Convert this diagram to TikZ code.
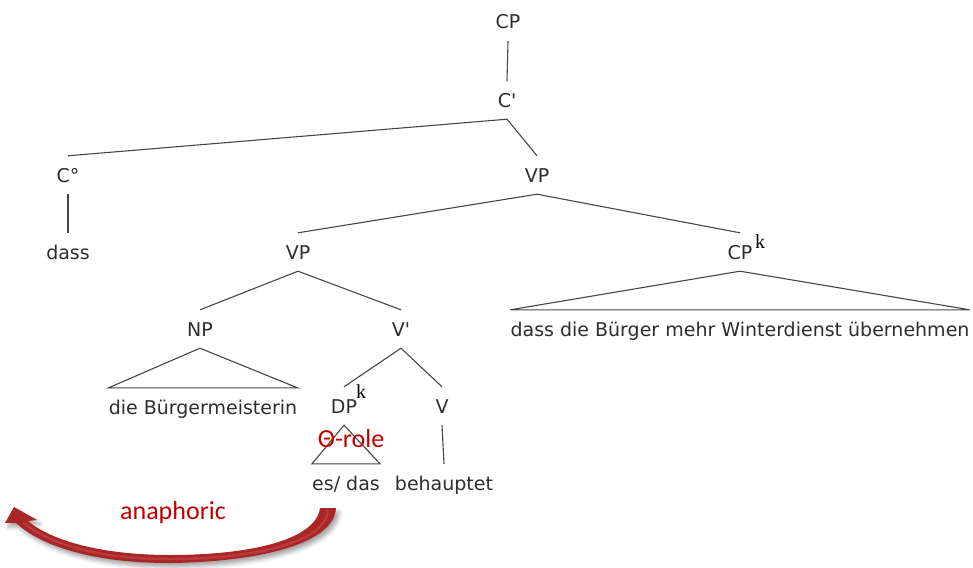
\documentclass[tikz,border=0pt]{standalone}
\usepackage{fontspec}
\setmainfont{DejaVu Sans}
\newfontfamily\notefont{Carlito}
\newfontfamily\indexfont{Liberation Serif}
\usetikzlibrary{shadows.blur}
\definecolor{ink}{RGB}{45,45,45}
\definecolor{branchgray}{RGB}{70,70,70}
\definecolor{notered}{RGB}{192,0,0}
\definecolor{arrowred}{RGB}{168,38,38}
\definecolor{arrowlight}{RGB}{200,70,70}

\begin{document}
\begin{tikzpicture}[x=1pt,y=-1pt,
  cat/.style={font=\fontsize{19}{22}\selectfont, text=ink, text height=14pt,
              text depth=0pt, inner xsep=0pt, inner ysep=12pt},
  branch/.style={draw=branchgray, line width=1.1pt},
  idx/.style={font=\indexfont\fontsize{20}{20}\selectfont, text=black, inner sep=0pt},
  note/.style={font=\notefont\fontsize{26}{26}\selectfont, text=notered, inner sep=0pt}]
\useasboundingbox (0,0) rectangle (973,567);

% category labels and leaves
\node[cat] (cp)     at (508,22)  {CP};
\node[cat] (cbar)   at (507,100) {C\textquotesingle};
\node[cat] (c0)     at (68,175)  {C°};
\node[cat] (vp1)    at (537,175) {VP};
\node[cat] (dass)   at (68,252)  {dass};
\node[cat] (vp2)    at (298,252) {VP};
\node[cat] (cpk)    at (740,252) {CP};
\node[idx] (cpkidx) at (760,242) {k};
\node[cat] (np)     at (200,329) {NP};
\node[cat] (vbar)   at (401,329) {V\textquotesingle};
\node[cat] (clause) at (740,329) {dass die Bürger mehr Winterdienst übernehmen};
\node[cat] (subj)   at (203,407) {die Bürgermeisterin};
\node[cat] (dp)     at (344,406) {DP};
\node[idx] (dpidx)  at (361,392) {k};
\node[cat] (v)      at (442,406) {V};
\node[cat] (pron)   at (346,483) {es/ das};
\node[cat] (verb)   at (444,483) {behauptet};

% branches
\draw[branch] (cp.south) -- (cbar.north);
\draw[branch] (c0.north) -- (cbar.south) -- (vp1.north);
\draw[branch] (c0.south) -- (dass.north);
\draw[branch] (vp2.north) -- (vp1.south) -- (cpk.north);
\draw[branch] (np.north) -- (vp2.south) -- (vbar.north);
\draw[branch] (dp.north) -- (vbar.south) -- (v.north);
\draw[branch] (v.south) -- (verb.north);

% unanalysed constituents
\draw[branch] (cpk.south) -- (clause.north east) -- (clause.north west) -- cycle;
\draw[branch] (np.south) -- (subj.north east) -- (subj.north west) -- cycle;
\draw[branch] (dp.south) -- (pron.north east) -- (pron.north west) -- cycle;

% annotations
\node[note] (theta) at (351,439) {Θ-role};
\node[note] (ana)   at (173,513) {anaphoric};

% curved block arrow from the pronoun back to the left
\fill[arrowred, blur shadow={shadow xshift=3pt, shadow yshift=-4pt,
      shadow blur radius=4pt, shadow opacity=35}]
  (336,508) .. controls (334,545) and (255,562) .. (170,563)
  .. controls (90,563) and (40,545) .. (16,523)
  -- (5,523) -- (14,507) -- (37,520) -- (28,521)
  .. controls (50,540) and (100,555) .. (170,555)
  .. controls (250,555) and (316,540) .. (320,508) -- cycle;
% soft highlight along the middle of the shaft
\draw[arrowlight, line width=2.5pt, line cap=round, opacity=0.6]
  (328,511) .. controls (325,543) and (252,559) .. (170,559)
  .. controls (95,559) and (48,543) .. (24,523);
\end{tikzpicture}
\end{document}
